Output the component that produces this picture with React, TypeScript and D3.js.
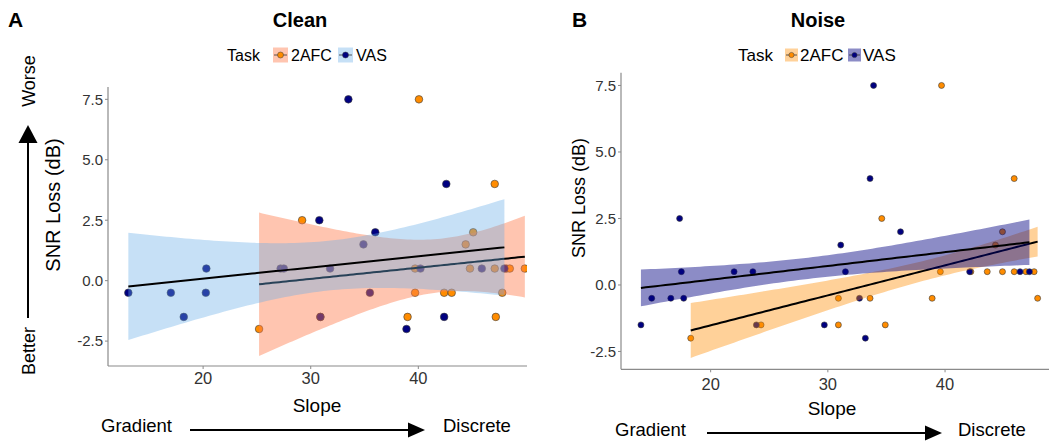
import React from 'react';
import * as d3 from 'd3';

const yTicks = [-2.5, 0, 2.5, 5, 7.5];
const xTicks = [20, 30, 40];
const taskNames = ['2AFC', 'VAS'];

// Clean condition (panel A), slope per participant and SNR loss
const cleanAfcSlope = [40.06, 47.1, 29.2, 45.1, 44.4, 39.7, 44.8, 47.1, 48.2, 48.5, 49.9, 39.7, 42.4, 43.1, 47.8, 30.9, 39.0, 47.2, 25.2];
const cleanAfcLoss = [7.5, 4, 2.5, 2, 1.5, 0.5, 0.5, 0.5, 0.5, 0.5, 0.5, -0.5, -0.5, -0.5, -0.5, -1.5, -1.5, -1.5, -2];
const cleanVasSlope = [33.5, 42.6, 30.8, 36.0, 34.9, 20.3, 27.2, 27.5, 31.8, 40.2, 45.9, 48.0, 13.05, 17.0, 20.25, 35.5, 18.2, 30.9, 42.4, 38.9];
const cleanVasLoss = [7.5, 4, 2.5, 2, 1.5, 0.5, 0.5, 0.5, 0.5, 0.5, 0.5, 0.5, -0.5, -0.5, -0.5, -0.5, -1.5, -1.5, -1.5, -2];

// Noise condition (panel B)
const noiseAfcSlope = [39.7, 45.9, 34.6, 44.9, 44.3, 39.6, 42.2, 43.6, 44.9, 45.9, 46.9, 47.6, 30.9, 33.6, 38.9, 47.9, 24.3, 30.9, 34.9, 18.3];
const noiseAfcLoss = [7.5, 4, 2.5, 2, 1.5, 0.5, 0.5, 0.5, 0.5, 0.5, 0.5, 0.5, -0.5, -0.5, -0.5, -0.5, -1.5, -1.5, -1.5, -2];
const noiseVasSlope = [33.9, 33.6, 17.35, 36.2, 31.1, 17.5, 22.0, 23.6, 31.5, 42.1, 46.4, 47.2, 14.97, 16.6, 17.7, 32.7, 14.05, 23.9, 29.7, 33.2];
const noiseVasLoss = [7.5, 4, 2.5, 2, 1.5, 0.5, 0.5, 0.5, 0.5, 0.5, 0.5, 0.5, -0.5, -0.5, -0.5, -0.5, -1.5, -1.5, -1.5, -2];

const FONT = '"Liberation Sans", Arial, sans-serif';
const AFC_COL = '#ff8c00';
const VAS_COL = '#000080';

// 97.5% t quantile (Cornish-Fisher expansion)
function tQuant(df: number) {
  const z = 1.959964;
  const g1 = (z ** 3 + z) / 4;
  const g2 = (5 * z ** 5 + 16 * z ** 3 + 3 * z) / 96;
  const g3 = (3 * z ** 7 + 19 * z ** 5 + 17 * z ** 3 - 15 * z) / 384;
  return z + g1 / df + g2 / df ** 2 + g3 / df ** 3;
}

// linear fit with confidence band, like geom_smooth(method = "lm")
// mult: band half-width in standard errors (null = 95% t interval)
function fitBand(xs: number[], ys: number[], mult: number | null, steps = 80) {
  const n = xs.length;
  const mx = d3.mean(xs)!;
  const my = d3.mean(ys)!;
  let sxx = 0, sxy = 0;
  xs.forEach((x, i) => { sxx += (x - mx) ** 2; sxy += (x - mx) * (ys[i] - my); });
  const b = sxy / sxx;
  const a = my - b * mx;
  let sse = 0;
  xs.forEach((x, i) => { sse += (ys[i] - (a + b * x)) ** 2; });
  const s = Math.sqrt(sse / (n - 2));
  const t = mult ?? tQuant(n - 2);
  const [x0, x1] = d3.extent(xs) as [number, number];
  return d3.range(steps).map(i => {
    const x = x0 + ((x1 - x0) * i) / (steps - 1);
    const fit = a + b * x;
    const se = s * Math.sqrt(1 / n + (x - mx) ** 2 / sxx);
    return { x, fit, lo: fit - t * se, hi: fit + t * se };
  });
}

interface PanelProps {
  id: string;
  letter: string;
  letterX: number;
  title: string;
  titleX: number;
  xDomain: [number, number];
  xRange: [number, number];
  yDomain: [number, number];
  yRange: [number, number];
  afc: [number[], number[]];
  vas: [number[], number[]];
  afcFill: string;
  afcAlpha: number;
  vasFill: string;
  vasAlpha: number;
  bandMult: number | null;
  r: number;
  legend: { task: number; key1: number; lab1: number; key2: number; lab2: number; size: number; key: number; font: number };
  ylab: { x: number; y: number; size: number };
  slopeLab: { x: number; y: number };
  grad: { textX: number; y: number; a0: number; a1: number; ay: number; discX: number };
  xTickY: number;
  tickFont: number;
  xTickFont: number;
}

const Panel: React.FC<PanelProps> = p => {
  const x = d3.scaleLinear().domain(p.xDomain).range(p.xRange);
  const y = d3.scaleLinear().domain(p.yDomain).range(p.yRange);
  const [xl, xr] = p.xRange;
  const [yb, yt] = p.yRange;

  const afcBand = fitBand(p.afc[0], p.afc[1], p.bandMult);
  const vasBand = fitBand(p.vas[0], p.vas[1], p.bandMult);
  const area = d3.area<{ x: number; lo: number; hi: number }>()
    .x(d => x(d.x)).y0(d => y(d.lo)).y1(d => y(d.hi));
  const line = d3.line<{ x: number; fit: number }>().x(d => x(d.x)).y(d => y(d.fit));

  const afcPts = p.afc[0].map((v, i) => [v, p.afc[1][i]]);
  const vasPts = p.vas[0].map((v, i) => [v, p.vas[1][i]]);
  const lg = p.legend;
  const g = p.grad;

  return (
    <g fontFamily={FONT}>
      <defs>
        <clipPath id={`clip-${p.id}`}>
          <rect x={xl} y={yt} width={xr - xl} height={yb - yt} />
        </clipPath>
      </defs>
      <g clipPath={`url(#clip-${p.id})`}>
        {afcPts.map((d, i) => (
          <circle key={'a' + i} cx={x(d[0])} cy={y(d[1])} r={p.r} fill={AFC_COL} stroke="#3a3a3a" strokeWidth={0.6} />
        ))}
        {vasPts.map((d, i) => (
          <circle key={'v' + i} cx={x(d[0])} cy={y(d[1])} r={p.r} fill={VAS_COL} stroke="#3a3a3a" strokeWidth={0.6} />
        ))}
        <path d={area(afcBand)!} fill={p.afcFill} fillOpacity={p.afcAlpha} />
        <path d={line(afcBand)!} fill="none" stroke="#000" strokeWidth={2} />
        <path d={area(vasBand)!} fill={p.vasFill} fillOpacity={p.vasAlpha} />
        <path d={line(vasBand)!} fill="none" stroke="#000" strokeWidth={2} />
      </g>

      {/* axes */}
      <line x1={xl} x2={xl} y1={yt} y2={yb} stroke="#8a8a8a" strokeWidth={1.2} />
      <line x1={xl} x2={xr} y1={yb} y2={yb} stroke="#8a8a8a" strokeWidth={1.2} />
      {yTicks.map(t => (
        <g key={t}>
          <line x1={xl - 3} x2={xl} y1={y(t)} y2={y(t)} stroke="#8a8a8a" />
          <text x={xl - 5} y={y(t)} dy="0.36em" textAnchor="end" fontSize={p.tickFont} fill="#333">
            {t.toFixed(1)}
          </text>
        </g>
      ))}
      {xTicks.map(t => (
        <g key={t}>
          <line x1={x(t)} x2={x(t)} y1={yb} y2={yb + 3} stroke="#8a8a8a" />
          <text x={x(t)} y={p.xTickY} textAnchor="middle" fontSize={p.xTickFont} fill="#333">{t}</text>
        </g>
      ))}

      {/* titles */}
      <text x={p.letterX} y={27} fontSize={21} fontWeight="bold">{p.letter}</text>
      <text x={p.titleX} y={27} fontSize={20} fontWeight="bold" textAnchor="middle">{p.title}</text>

      {/* legend */}
      <text x={lg.task} y={61} fontSize={lg.font}>Task</text>
      {[0, 1].map(i => {
        const kx = i === 0 ? lg.key1 : lg.key2;
        const tx = i === 0 ? lg.lab1 : lg.lab2;
        const ky = 55 - lg.key / 2;
        return (
          <g key={i}>
            <rect x={kx} y={ky} width={lg.key} height={lg.key}
              fill={i === 0 ? p.afcFill : p.vasFill} fillOpacity={i === 0 ? p.afcAlpha : p.vasAlpha} />
            <line x1={kx + 1} x2={kx + lg.key - 1} y1={55} y2={55} stroke="#333" strokeWidth={0.8} />
            <circle cx={kx + lg.key / 2} cy={55} r={lg.size} fill={i === 0 ? AFC_COL : VAS_COL} stroke="#3a3a3a" strokeWidth={0.5} />
            <text x={tx} y={61} fontSize={lg.font}>{taskNames[i]}</text>
          </g>
        );
      })}

      {/* axis titles */}
      <text transform={`translate(${p.ylab.x},${p.ylab.y}) rotate(-90)`} textAnchor="middle" fontSize={p.ylab.size}>
        SNR Loss (dB)
      </text>
      <text x={p.slopeLab.x} y={p.slopeLab.y} textAnchor="middle" fontSize={19}>Slope</text>
      <text x={g.textX} y={g.y} fontSize={18.5}>Gradient</text>
      <line x1={g.a0} x2={g.a1 - 14} y1={g.ay} y2={g.ay} stroke="#000" strokeWidth={2} />
      <path d={`M${g.a1},${g.ay} L${g.a1 - 17},${g.ay - 7.5} L${g.a1 - 17},${g.ay + 7.5} Z`} fill="#000" />
      <text x={g.discX} y={g.y} fontSize={18.5}>Discrete</text>
    </g>
  );
};

const App: React.FC = () => (
  <svg width={1049} height={445} style={{ position: 'absolute', left: 0, top: 0, background: '#fff' }}>
    <Panel
      id="clean" letter="A" letterX={8} title="Clean" titleX={300}
      xDomain={[11.16, 50.1]} xRange={[108, 527]}
      yDomain={[-3.53, 8.01]} yRange={[366, 87]}
      afc={[cleanAfcSlope, cleanAfcLoss]} vas={[cleanVasSlope, cleanVasLoss]}
      afcFill="#ff7f50" afcAlpha={0.45} vasFill="#6aaee8" vasAlpha={0.38}
      bandMult={null}
      r={3.8}
      legend={{ task: 227, key1: 273, lab1: 291, key2: 338, lab2: 356, size: 3, key: 15, font: 16 }}
      ylab={{ x: 60, y: 205, size: 20 }}
      slopeLab={{ x: 317, y: 412 }}
      grad={{ textX: 101, y: 432, a0: 190, a1: 425, ay: 430, discX: 443 }}
      xTickY={384} tickFont={15} xTickFont={16.5}
    />
    <Panel
      id="noise" letter="B" letterX={572} title="Noise" titleX={818}
      xDomain={[12.35, 48.87]} xRange={[621, 1049]}
      yDomain={[-3.17, 7.98]} yRange={[369.3, 72.7]}
      afc={[noiseAfcSlope, noiseAfcLoss]} vas={[noiseVasSlope, noiseVasLoss]}
      afcFill="#ff8c00" afcAlpha={0.4} vasFill="#000080" vasAlpha={0.45}
      bandMult={0.82}
      r={3}
      legend={{ task: 738, key1: 785, lab1: 800, key2: 848, lab2: 863, size: 2.6, key: 13, font: 17 }}
      ylab={{ x: 585, y: 198, size: 18 }}
      slopeLab={{ x: 832, y: 415 }}
      grad={{ textX: 615, y: 436, a0: 707, a1: 942, ay: 433, discX: 958 }}
      xTickY={390} tickFont={15} xTickFont={16.5}
    />

    {/* Better / Worse arrow for panel A */}
    <g fontFamily={FONT}>
      <text transform="translate(35,81) rotate(-90)" textAnchor="middle" fontSize={18}>Worse</text>
      <text transform="translate(35,351) rotate(-90)" textAnchor="middle" fontSize={18}>Better</text>
      <line x1={28} x2={28} y1={318} y2={139} stroke="#000" strokeWidth={2} />
      <path d="M28,125 L18.5,143 L37.5,143 Z" fill="#000" />
    </g>
  </svg>
);

export default App;
